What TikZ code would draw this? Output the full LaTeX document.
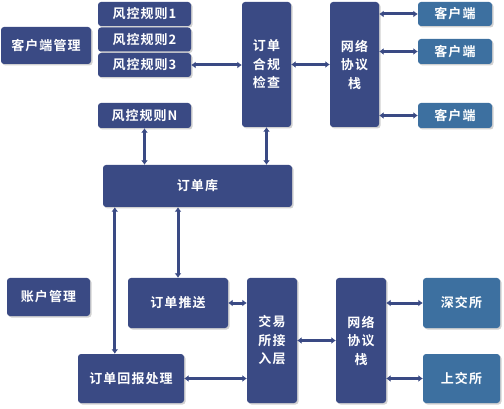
\documentclass[tikz,border=0pt]{standalone}
\usepackage{fontspec}
\setmainfont{Noto Sans CJK SC}[BoldFont={* Bold},LetterSpace=8]
\usetikzlibrary{arrows.meta,shadows,calc}
\definecolor{darkbox}{HTML}{3A4A84}
\definecolor{lightbox}{HTML}{3D70A0}
\begin{document}
\begin{tikzpicture}[x=1pt,y=-1pt,
  box/.style={draw=none,fill=darkbox,rounded corners=3pt,text=white,
    font=\fontsize{13}{18.5}\selectfont\bfseries,align=center,inner sep=0pt,
    drop shadow={shadow xshift=1.5pt,shadow yshift=-1.5pt,fill=black!30,opacity=.6}},
  lbox/.style={box,fill=lightbox},
  link/.style={draw=darkbox,line width=3pt,{Latex[length=4.5pt,width=7pt]}-{Latex[length=4.5pt,width=7pt]}}
]
\useasboundingbox (0,0) rectangle (504,409);
% top part
\node[box,minimum width=90pt,minimum height=37pt] (kh) at (46,45.5) {客户端管理};
\node[box,minimum width=93pt,minimum height=24pt] (r1) at (144.5,14) {风控规则1};
\node[box,minimum width=93pt,minimum height=24pt] (r2) at (144.5,39.5) {风控规则2};
\node[box,minimum width=93pt,minimum height=24pt] (r3) at (144.5,65) {风控规则3};
\node[box,minimum width=93pt,minimum height=25pt] (rN) at (144.5,115.5) {风控规则N};
\node[box,minimum width=49pt,minimum height=125pt] (hg) at (266.5,64.5) {订单\\合规\\检查};
\node[box,minimum width=49pt,minimum height=125pt] (net1) at (354.5,64.5) {网络\\协议\\栈};
\node[lbox,minimum width=74pt,minimum height=24pt] (c1) at (455,14) {客户端};
\node[lbox,minimum width=74pt,minimum height=25pt] (c2) at (455,51.5) {客户端};
\node[lbox,minimum width=74pt,minimum height=25pt] (c3) at (455,115.5) {客户端};
% middle
\node[box,minimum width=189pt,minimum height=42pt] (db) at (197.5,186) {订单库};
% bottom part
\node[box,minimum width=83pt,minimum height=38pt] (acct) at (48.5,297) {账户管理};
\node[box,minimum width=100pt,minimum height=50pt] (push) at (178,303) {订单推送};
\node[box,minimum width=106pt,minimum height=49pt] (rep) at (131,378.5) {订单回报处理};
\node[box,minimum width=50pt,minimum height=125pt] (ex) at (272,340.5) {交易\\所接\\入层};
\node[box,minimum width=50pt,minimum height=125pt] (net2) at (361,340.5) {网络\\协议\\栈};
\node[lbox,minimum width=77pt,minimum height=50pt] (sz) at (461.5,303) {深交所};
\node[lbox,minimum width=77pt,minimum height=49pt] (sh) at (461.5,378.5) {上交所};
% connectors
\draw[link] (r3.east) -- (r3.east -| hg.west);
\draw[link] (hg.east) -- (net1.west);
\draw[link] (c1.west -| net1.east) -- (c1.west);
\draw[link] (c2.west -| net1.east) -- (c2.west);
\draw[link] (c3.west -| net1.east) -- (c3.west);
\draw[link] (rN.south) -- (rN.south |- db.north);
\draw[link] (hg.south) -- (hg.south |- db.north);
\draw[link] ([xshift=12pt]db.south west) -- ([xshift=12pt]db.south west |- rep.north);
\draw[link] (push.north |- db.south) -- (push.north);
\draw[link] (push.east) -- (push.east -| ex.west);
\draw[link] (rep.east) -- (rep.east -| ex.west);
\draw[link] (ex.east) -- (net2.west);
\draw[link] (sz.west -| net2.east) -- (sz.west);
\draw[link] (sh.west -| net2.east) -- (sh.west);
\end{tikzpicture}
\end{document}
